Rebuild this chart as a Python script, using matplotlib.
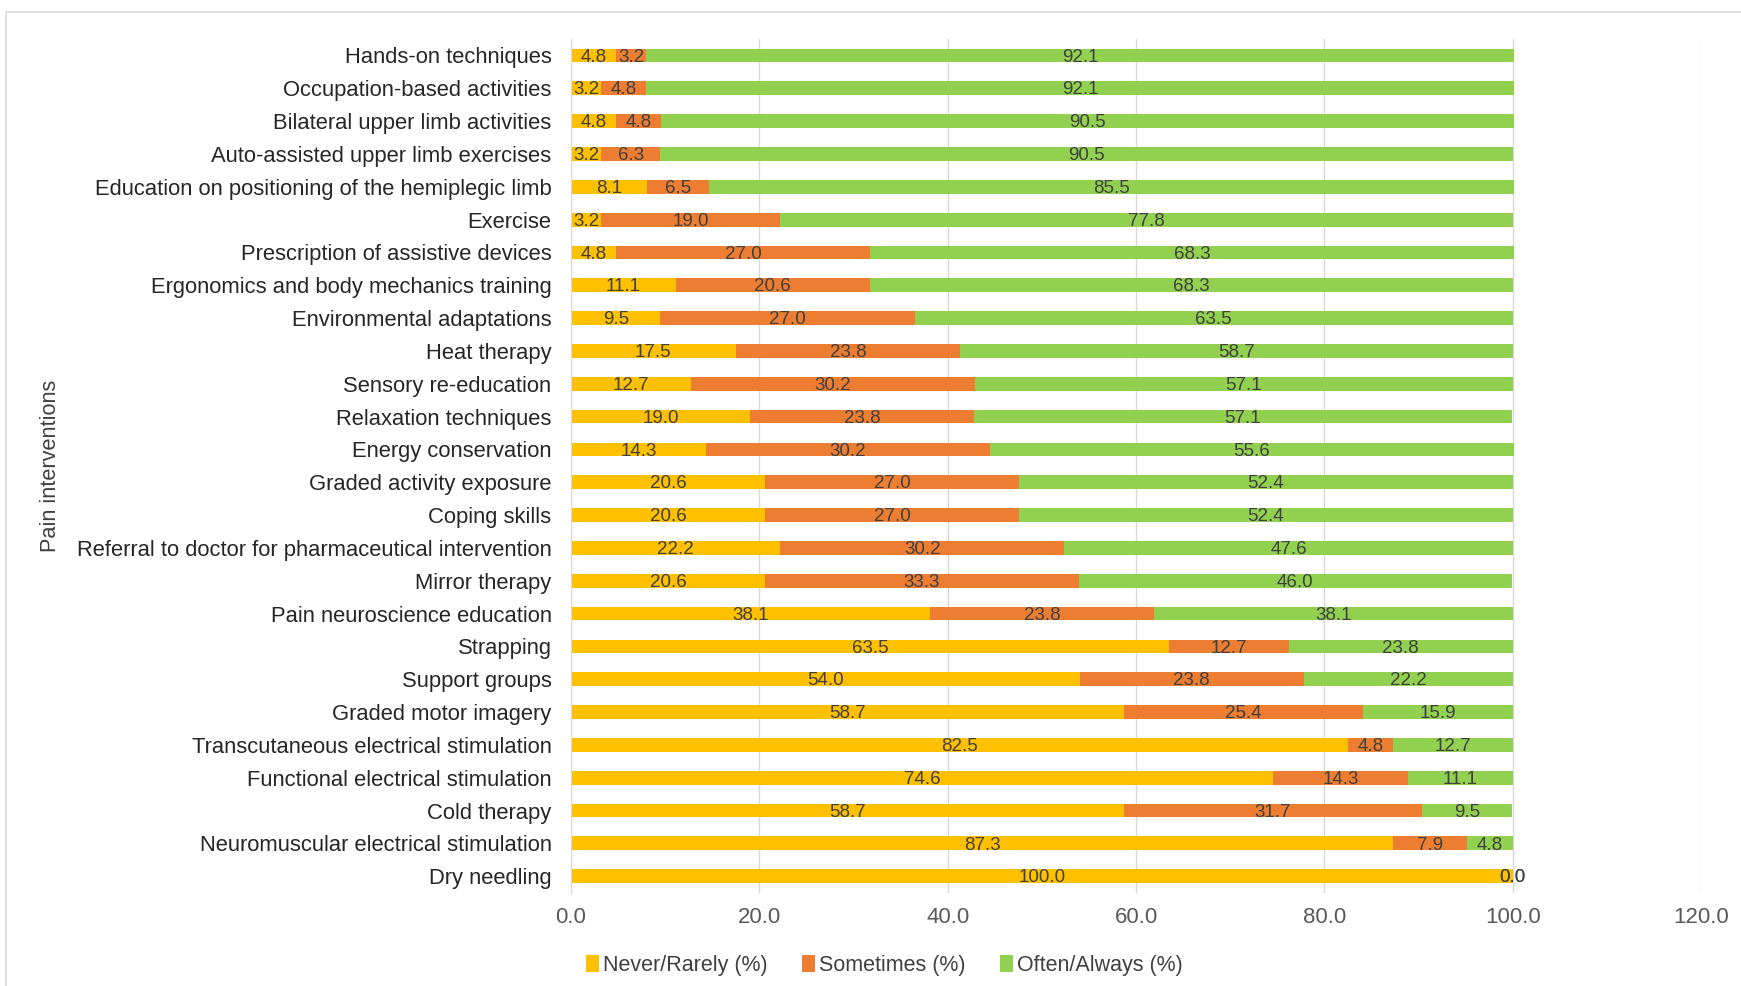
import numpy as np
import matplotlib.pyplot as plt
from matplotlib.patches import Rectangle

# pain interventions, listed top to bottom
items = [
    'Hands-on techniques',
    'Occupation-based activities',
    'Bilateral upper limb activities',
    'Auto-assisted upper limb exercises',
    'Education on positioning of the hemiplegic limb',
    'Exercise',
    'Prescription of assistive devices',
    'Ergonomics and body mechanics training',
    'Environmental adaptations',
    'Heat therapy',
    'Sensory re-education',
    'Relaxation techniques',
    'Energy conservation',
    'Graded activity exposure',
    'Coping skills',
    'Referral to doctor for pharmaceutical intervention',
    'Mirror therapy',
    'Pain neuroscience education',
    'Strapping',
    'Support groups',
    'Graded motor imagery',
    'Transcutaneous electrical stimulation',
    'Functional electrical stimulation',
    'Cold therapy',
    'Neuromuscular electrical stimulation',
    'Dry needling',
]
never = [4.8, 3.2, 4.8, 3.2, 8.1, 3.2, 4.8, 11.1, 9.5, 17.5, 12.7, 19.0, 14.3,
         20.6, 20.6, 22.2, 20.6, 38.1, 63.5, 54.0, 58.7, 82.5, 74.6, 58.7, 87.3, 100.0]
sometimes = [3.2, 4.8, 4.8, 6.3, 6.5, 19.0, 27.0, 20.6, 27.0, 23.8, 30.2, 23.8, 30.2,
             27.0, 27.0, 30.2, 33.3, 23.8, 12.7, 23.8, 25.4, 4.8, 14.3, 31.7, 7.9, 0.0]
often = [92.1, 92.1, 90.5, 90.5, 85.5, 77.8, 68.3, 68.3, 63.5, 58.7, 57.1, 57.1, 55.6,
         52.4, 52.4, 47.6, 46.0, 38.1, 23.8, 22.2, 15.9, 12.7, 11.1, 9.5, 4.8, 0.0]
series_names = ['Never/Rarely (%)', 'Sometimes (%)', 'Often/Always (%)']
colors = ['#FFC000', '#ED7D31', '#92D050']
xticks = [0, 20, 40, 60, 80, 100, 120]

plt.rcParams['font.family'] = 'Liberation Sans'

fig = plt.figure(figsize=(17.41, 9.86), dpi=100)
ax = fig.add_axes([0.328, 0.0947, 0.649, 0.8657])

# outer chart frame
fig.patches.append(Rectangle((6 / 1741, -0.1), 1.2, 1.1 - 12 / 986,
                             transform=fig.transFigure, fill=False,
                             edgecolor='#d9d9d9', linewidth=1.2))

y = np.arange(len(items))[::-1]
left = np.zeros(len(items))
for vals, name, c in zip([never, sometimes, often], series_names, colors):
    vals = np.array(vals)
    bars = ax.barh(y, vals, left=left, height=0.42, color=c, label=name, zorder=2)
    for b, v in zip(bars, vals):
        ax.text(b.get_x() + b.get_width() / 2, b.get_y() + b.get_height() / 2 - 0.05,
                f'{v:.1f}', ha='center', va='center', fontsize=13.5,
                color='#404040', zorder=3)
    left = left + vals

ax.set_xlim(0, 120)
ax.set_ylim(-0.5, len(items) - 0.5)
ax.set_xticks(xticks)
ax.set_xticklabels([f'{t:.1f}' for t in xticks], fontsize=16, color='#595959')
ax.set_yticks(y)
ax.set_yticklabels(items, fontsize=15.8, color='#262626')
ax.tick_params(length=0, pad=14)
ax.tick_params(axis='x', pad=10)
ax.xaxis.grid(True, color='#d9d9d9', linewidth=1, zorder=0)
ax.set_axisbelow(True)
for s in ['top', 'right', 'bottom']:
    ax.spines[s].set_visible(False)
ax.spines['left'].set_color('#d9d9d9')
ax.set_ylabel('Pain interventions', fontsize=15.7, color='#404040')
ax.yaxis.set_label_coords(-0.451, 0.5)

fig.legend(loc='center', bbox_to_anchor=(0.508, 0.021), ncol=3, frameon=False,
           fontsize=15.5, handlelength=0.6, handleheight=0.9, handletextpad=0.2,
           columnspacing=1.6, labelcolor='#404040')

fig.savefig('out.png', dpi=100)
